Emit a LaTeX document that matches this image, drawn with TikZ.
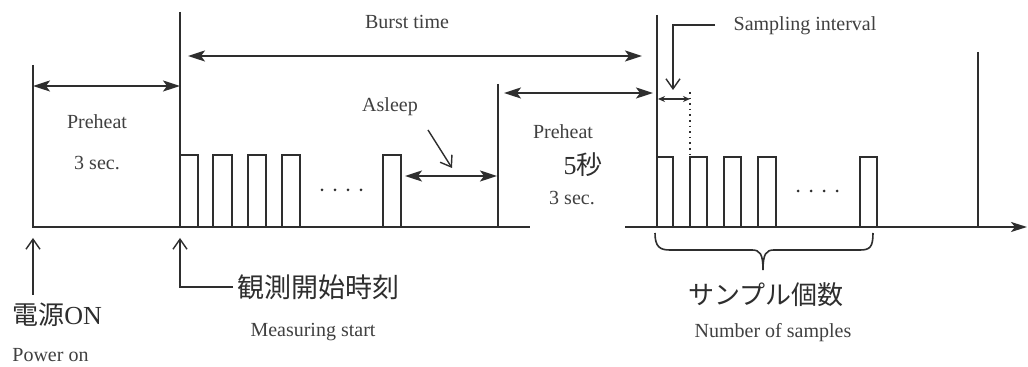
\documentclass[tikz,border=0pt]{standalone}
\usepackage{fontspec}
\setmainfont{Liberation Serif}
\newfontfamily\cjk{Noto Sans CJK JP}
\usetikzlibrary{arrows.meta}
\definecolor{ink}{gray}{0.18}
\definecolor{txt}{gray}{0.25}
\begin{document}
\begin{tikzpicture}[x=0.5pt,y=-0.5pt,
  wire/.style={draw=ink, line width=1pt, line join=miter},
  dimarrow/.style={draw=ink, line width=1pt, {Stealth[length=8.5pt,width=5.5pt,inset=2pt]}-{Stealth[length=8.5pt,width=5.5pt,inset=2pt]}},
  smallarrow/.style={draw=ink, line width=0.7pt, {Stealth[length=3.5pt,width=3pt]}-{Stealth[length=3.5pt,width=3pt]}},
  pointer/.style={draw=ink, line width=0.7pt, -{Straight Barb[length=5pt,width=7pt]}},
  dotline/.style={draw=ink, line width=0.8pt, dotted},
  lbl/.style={text=txt, font=\fontsize{10}{12}\selectfont, inner sep=0pt},
  big/.style={text=ink, font=\fontsize{13}{15}\selectfont, inner sep=0pt},
  dot/.style={fill=ink},
]
\useasboundingbox (0,0) rectangle (1028,367);
\fill[white] (0,0) rectangle (1028,367);

% baseline and verticals
\coordinate (b0) at (33,227);
\coordinate (b1) at (530,227);
\coordinate (b2) at (625,227);
\coordinate (b3) at (1027,227);
\coordinate (v1t) at (33,65);
\coordinate (v2t) at (180,12);   \coordinate (v2b) at (180,227);
\coordinate (v3t) at (498,84);   \coordinate (v3b) at (498,227);
\coordinate (v4t) at (657,15);   \coordinate (v4b) at (657,227);
\coordinate (v5t) at (978,52);   \coordinate (v5b) at (978,227);

\draw[wire] (v1t) -- (b0) -- (b1);
\draw[wire, -{Stealth[length=8pt,width=5pt,inset=2pt]}] (b2) -- (b3);
\draw[wire] (v2t) -- (v2b);
\draw[wire] (v3t) -- (v3b);
\draw[wire] (v4t) -- (v4b);
\draw[wire] (v5t) -- (v5b);

% pulses, first burst
\foreach \a/\b in {180/198, 213/232, 248/266, 282/300, 383/401}
  \draw[wire] (\a,227) -- (\a,155) -- (\b,155) -- (\b,227);
% pulses, second burst
\foreach \a/\b in {657/673, 690/707, 724/741, 758/776, 860/877}
  \draw[wire] (\a,227) -- (\a,157) -- (\b,157) -- (\b,227);

% ellipsis dots
\foreach \x in {322,335,348,361} \fill[dot] (\x,190) circle (1.5);
\foreach \x in {798,811,824,837} \fill[dot] (\x,191) circle (1.5);

% dimension arrows
\coordinate (p1a) at (33,86);   \coordinate (p1b) at (180,86);
\coordinate (bta) at (188,56);  \coordinate (btb) at (642,56);
\coordinate (asa) at (405,176); \coordinate (asb) at (497,176);
\coordinate (p2a) at (504,93);  \coordinate (p2b) at (653,93);
\coordinate (sia) at (658,99);  \coordinate (sib) at (690,99);
\coordinate (sit) at (690,92);  \coordinate (sibot) at (690,155);
\draw[dimarrow] (p1a) -- (p1b);
\draw[dimarrow] (bta) -- (btb);
\draw[dimarrow] (asa) -- (asb);
\draw[dimarrow] (p2a) -- (p2b);
\draw[smallarrow] (sia) -- (sib);
\draw[dotline] (sit) -- (sibot);

% labels
\node[lbl] (burst) at (407,22) {Burst time};
\node[lbl] (pre1) at (97,122) {Preheat};
\node[lbl] (sec1) at (97,163) {3 sec.};
\node[lbl] (asleep) at (390,107) {Asleep};
\node[lbl] (pre2) at (563,132) {Preheat};
\node[big] (five) at (583,165) {5{\cjk 秒}};
\node[lbl] (sec2) at (572,198) {3 sec.};
\node[lbl] (samp) at (805,26) {Sampling interval};
\node[big, anchor=west] (power) at (12,315) {{\cjk 電源}ON};
\node[lbl, anchor=west] (poweren) at (12,355) {Power on};
\node[big, anchor=west, font=\fontsize{13.5}{15}\selectfont] (meas) at (237,287) {\cjk 観測開始時刻};
\node[lbl] (measen) at (313,332) {Measuring start};
\node[big] (num) at (766,295) {\cjk サンプル個数};
\node[lbl] (numen) at (773,333) {Number of samples};

% pointers
\coordinate (asp0) at (428,130); \coordinate (asp1) at (452,168);
\draw[pointer] (asp0) -- (asp1);
\coordinate (sp0) at (715,25); \coordinate (sp1) at (673,25); \coordinate (sp2) at (673,90);
\draw[pointer] (sp0) -- (sp1) -- (sp2);
\coordinate (pw0) at (33,295); \coordinate (pw1) at (33,238);
\draw[pointer] (pw0) -- (pw1);
\coordinate (ms0) at (233,287); \coordinate (ms1) at (180,287); \coordinate (ms2) at (180,238);
\draw[pointer] (ms0) -- (ms1) -- (ms2);

% brace for number of samples
\draw[ink, line width=0.8pt] (655,233) .. controls (655,247) and (660,250) .. (670,250)
  -- (752,250) .. controls (760,250) and (763,254) .. (763,270)
  .. controls (763,254) and (766,250) .. (774,250)
  -- (860,250) .. controls (870,250) and (873,247) .. (873,233);
\end{tikzpicture}
\end{document}
